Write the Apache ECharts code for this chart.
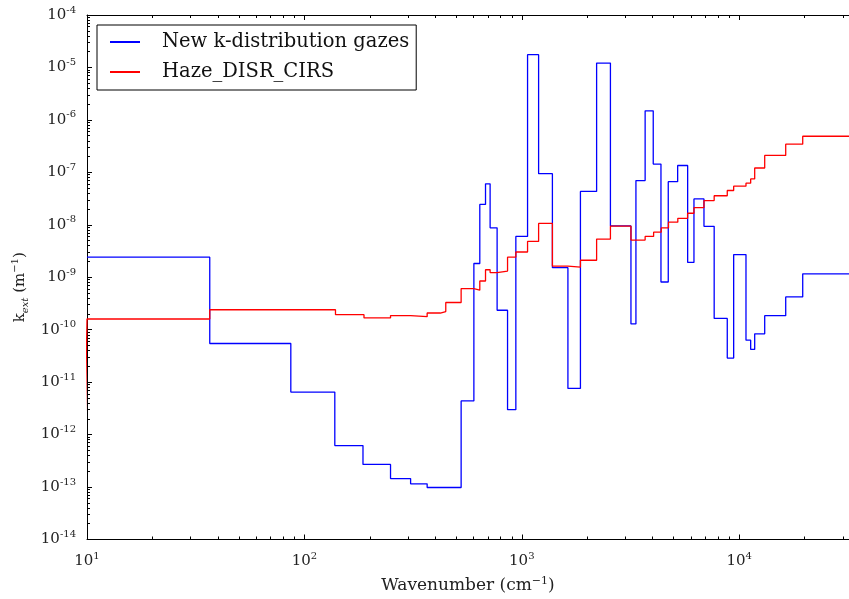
<!DOCTYPE html>
<html>
<head>
<meta charset="utf-8">
<script src="https://cdn.jsdelivr.net/npm/echarts@6/dist/echarts.min.js"></script>
<style>
html, body { margin: 0; padding: 0; background: #fff; }
#chart { width: 849px; height: 599px; }
</style>
</head>
<body>
<div id="chart"></div>
<script>
// left edge of each bin (cm-1) and its k_ext value
const blueEdges = [10, 36.7, 86.6, 138, 186, 249, 308, 367, 526, 602, 641, 681, 715, 770, 860, 939,
    1063, 1195, 1383, 1630, 1861, 2209, 2557, 3178, 3350, 3693, 4024, 4367, 4718, 5212, 5794, 6194,
    6887, 7673, 8814, 9433, 10747, 11294, 11785, 13103, 16369, 19600];
const blueValues = [2.41e-9, 5.46e-11, 6.47e-12, 6.17e-13, 2.7e-13, 1.45e-13, 1.15e-13, 9.8e-14, 4.38e-12,
    1.83e-9, 2.45e-8, 6.04e-8, 8.77e-9, 2.35e-10, 2.99e-12, 6.01e-9, 1.75e-5, 9.44e-8, 1.52e-9, 7.6e-12,
    4.32e-8, 1.21e-5, 9.5e-9, 1.29e-10, 6.97e-8, 1.49e-6, 1.44e-7, 8.11e-10, 6.64e-8, 1.35e-7, 1.92e-9,
    3.11e-8, 9.37e-9, 1.64e-10, 2.88e-11, 2.71e-9, 6.3e-11, 4.21e-11, 8.33e-11, 1.85e-10, 4.22e-10, 1.16e-9];

const redEdges = [9.8, 10, 36.7, 139, 188, 249, 308, 367, 422, 447, 526, 602, 641, 681, 715, 770, 860, 939,
    1063, 1195, 1383, 1630, 1861, 2209, 2557, 3178, 3693, 4040, 4380, 4730, 5220, 5790, 6194,
    6887, 7673, 8814, 9433, 10747, 11294, 11785, 13103, 16369, 19600];
const redValues = [1.3e-12, 1.6e-10, 2.4e-10, 1.93e-10, 1.68e-10, 1.86e-10, 1.77e-10, 2.08e-10, 2.22e-10, 3.3e-10,
    6.07e-10, 5.68e-10, 8.48e-10, 1.39e-9, 1.23e-9, 1.31e-9, 2.41e-9, 3.03e-9, 4.83e-9, 1.06e-8, 1.63e-9,
    1.56e-9, 2.11e-9, 5.34e-9, 9.41e-9, 5.11e-9, 6.01e-9, 7.24e-9, 8.7e-9, 1.12e-8, 1.33e-8, 1.66e-8,
    2.12e-8, 2.9e-8, 3.58e-8, 4.51e-8, 5.46e-8, 6.22e-8, 7.5e-8, 1.21e-7, 2.1e-7, 3.44e-7, 4.88e-7];

const seriesNames = ['New k-distribution gazes', 'Haze_DISR_CIRS'];
const xMin = 10, xMax = 32000;
const yMin = 1e-14, yMax = 1e-4;
const xMajorTicks = [10, 100, 1000, 10000];
const yMajorTicks = [1e-14, 1e-13, 1e-12, 1e-11, 1e-10, 1e-9, 1e-8, 1e-7, 1e-6, 1e-5, 1e-4];

function minorTicks(lo, hi) {
    let out = [];
    for (let d = Math.floor(Math.log10(lo)); d < Math.ceil(Math.log10(hi)); d++) {
        for (let k = 2; k <= 9; k++) {
            let v = k * Math.pow(10, d);
            if (v > lo && v < hi) out.push(v);
        }
    }
    return out;
}

function toSteps(edges, values) {
    let pts = edges.map((e, i) => [e, values[i]]);
    pts.push([xMax, values[values.length - 1]]);
    return pts;
}

const font = 'DejaVu Serif';
const ink = '#000';

function powLabel(v) {
    let e = Math.round(Math.log10(v));
    return '{b|10}{s|' + e + '}';
}
const powRich = {
    b: { fontFamily: font, fontSize: 15, color: '#222', lineHeight: 20 },
    s: { fontFamily: font, fontSize: 10, color: '#222', verticalAlign: 'top', lineHeight: 20 }
};

function xAxisDef(pos, major) {
    return {
        type: 'log', logBase: 10, position: pos, min: xMin, max: xMax,
        axisLine: { show: major, lineStyle: { color: ink, width: 1 } },
        axisTick: { show: true, inside: true, length: major ? 5 : 3,
            customValues: major ? xMajorTicks : minorTicks(xMin, xMax),
            lineStyle: { color: ink } },
        axisLabel: { show: major && pos === 'bottom', customValues: xMajorTicks, margin: 12,
            formatter: powLabel, rich: powRich },
        splitLine: { show: false },
        name: (major && pos === 'bottom') ? '{n|Wavenumber (cm}{u|\u22121}{n|)}' : '',
        nameLocation: 'middle', nameGap: 36,
        nameTextStyle: { rich: {
            n: { fontFamily: font, fontSize: 17, color: '#222', lineHeight: 20 },
            u: { fontFamily: font, fontSize: 11, color: '#222', verticalAlign: 'top', lineHeight: 20 }
        } }
    };
}

function yAxisDef(major) {
    return {
        type: 'log', logBase: 10, position: 'left', min: yMin, max: yMax,
        axisLine: { show: major, lineStyle: { color: ink, width: 1 } },
        axisTick: { show: true, inside: true, length: major ? 5 : 3,
            customValues: major ? yMajorTicks : minorTicks(yMin, yMax),
            lineStyle: { color: ink } },
        axisLabel: { show: major, customValues: yMajorTicks, margin: 11,
            formatter: powLabel, rich: powRich },
        splitLine: { show: false },
        name: major ? '{k|k}{d|ext}{k| (m}{u|\u22121}{k|)}' : '',
        nameLocation: 'middle', nameGap: 56,
        nameTextStyle: { padding: [0, 20, 0, 0], rich: {
            k: { fontFamily: font, fontSize: 15, color: '#222', lineHeight: 20 },
            d: { fontFamily: font, fontSize: 10, fontStyle: 'italic', color: '#222', verticalAlign: 'bottom', lineHeight: 20 },
            u: { fontFamily: font, fontSize: 10, color: '#222', verticalAlign: 'top', lineHeight: 20 }
        } }
    };
}

const chart = echarts.init(document.getElementById('chart'));
chart.setOption({
    animation: false,
    backgroundColor: '#fff',
    grid: { left: 87, right: 0, top: 15, bottom: 55 },
    legend: {
        data: seriesNames,
        orient: 'vertical',
        left: 97, top: 25,
        padding: [6, 7, 7, 13],
        itemWidth: 30, itemHeight: 2, itemGap: 8,
        icon: 'rect',
        borderColor: '#000', borderWidth: 1, borderRadius: 0,
        backgroundColor: '#fff',
        textStyle: { fontFamily: font, fontSize: 19.5, color: '#111', lineHeight: 22, padding: [0, 0, 0, 17] }
    },
    xAxis: [xAxisDef('bottom', true), xAxisDef('bottom', false), xAxisDef('top', true), xAxisDef('top', false)],
    yAxis: [yAxisDef(true), yAxisDef(false)],
    series: [
        {
            name: seriesNames[0], type: 'line', step: 'end', showSymbol: false,
            xAxisIndex: 0, yAxisIndex: 0,
            data: toSteps(blueEdges, blueValues),
            itemStyle: { color: '#0000ff' },
            lineStyle: { color: '#0000ff', width: 1.3 }
        },
        {
            name: seriesNames[1], type: 'line', step: 'end', showSymbol: false,
            xAxisIndex: 0, yAxisIndex: 0,
            data: toSteps(redEdges, redValues),
            itemStyle: { color: '#ff0000' },
            lineStyle: { color: '#ff0000', width: 1.3 }
        }
    ]
});
window.addEventListener('resize', () => { chart.resize(); });
</script>
</body>
</html>
